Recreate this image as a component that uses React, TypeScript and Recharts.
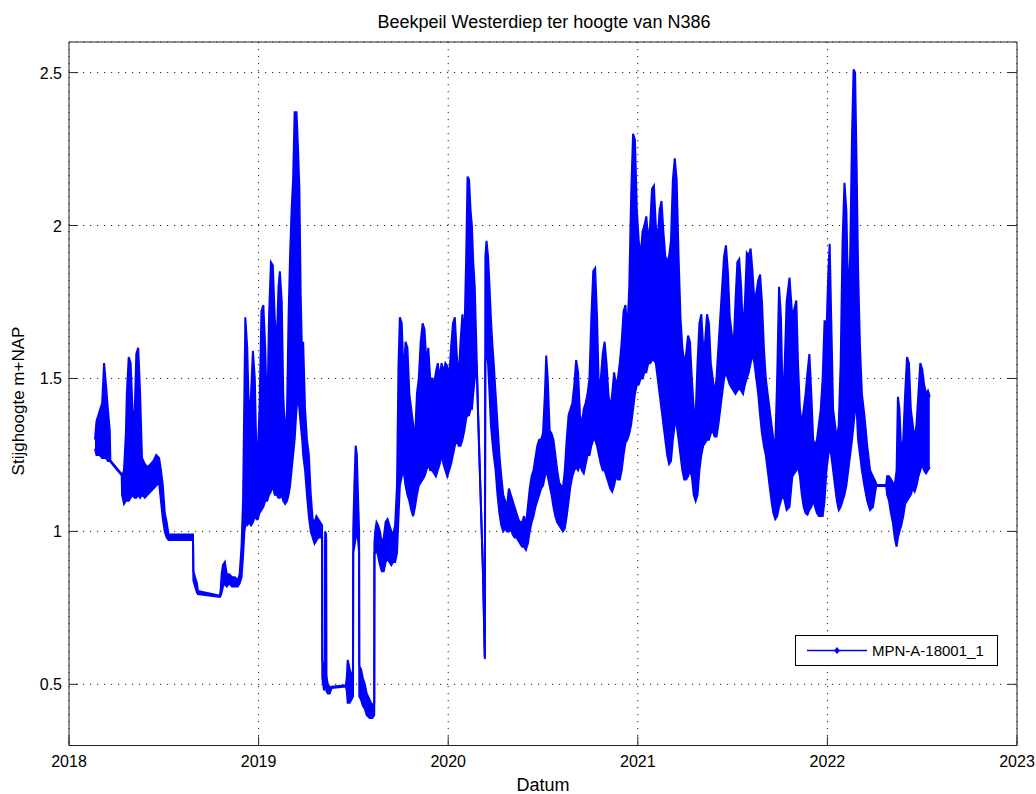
import { ComposedChart, Area, XAxis, YAxis, CartesianGrid, Legend } from "recharts";

// decimal years of each reading (envelope of the dense logger series)
const dates = [
  2018.137, 2018.145, 2018.160, 2018.175, 2018.185, 2018.195, 2018.205, 2018.215, 2018.218, 2018.278,
  2018.280, 2018.290, 2018.300, 2018.305, 2018.315, 2018.325, 2018.335, 2018.345, 2018.355, 2018.365,
  2018.375, 2018.385, 2018.400, 2018.415, 2018.430, 2018.445, 2018.460, 2018.475, 2018.485, 2018.495,
  2018.505, 2018.515, 2018.525, 2018.600, 2018.654, 2018.656, 2018.665, 2018.675, 2018.680, 2018.796,
  2018.800, 2018.805, 2018.812, 2018.822, 2018.832, 2018.845, 2018.860, 2018.875, 2018.890, 2018.900,
  2018.910, 2018.918, 2018.925, 2018.930, 2018.940, 2018.950, 2018.960, 2018.970, 2018.980, 2018.990,
  2018.995, 2019.005, 2019.015, 2019.025, 2019.035, 2019.045, 2019.055, 2019.065, 2019.075, 2019.085,
  2019.095, 2019.105, 2019.112, 2019.122, 2019.130, 2019.140, 2019.150, 2019.158, 2019.166, 2019.174,
  2019.182, 2019.190, 2019.200, 2019.208, 2019.215, 2019.222, 2019.230, 2019.235, 2019.245, 2019.255,
  2019.265, 2019.275, 2019.285, 2019.295, 2019.305, 2019.315, 2019.335, 2019.336, 2019.345, 2019.350,
  2019.351, 2019.356, 2019.357, 2019.365, 2019.375, 2019.385, 2019.460, 2019.465, 2019.470, 2019.480,
  2019.490, 2019.498, 2019.499, 2019.505, 2019.512, 2019.518, 2019.525, 2019.530, 2019.531, 2019.540,
  2019.550, 2019.560, 2019.570, 2019.585, 2019.600, 2019.610, 2019.611, 2019.615, 2019.622, 2019.630,
  2019.640, 2019.650, 2019.660, 2019.670, 2019.680, 2019.690, 2019.700, 2019.710, 2019.720, 2019.730,
  2019.738, 2019.745, 2019.755, 2019.765, 2019.775, 2019.785, 2019.795, 2019.805, 2019.815, 2019.825,
  2019.835, 2019.845, 2019.855, 2019.865, 2019.875, 2019.885, 2019.895, 2019.905, 2019.915, 2019.925,
  2019.935, 2019.945, 2019.955, 2019.965, 2019.975, 2019.985, 2019.995, 2020.005, 2020.015, 2020.025,
  2020.035, 2020.045, 2020.055, 2020.065, 2020.075, 2020.085, 2020.095, 2020.102, 2020.110, 2020.118,
  2020.125, 2020.132, 2020.140, 2020.150, 2020.158, 2020.167, 2020.176, 2020.184, 2020.190, 2020.193,
  2020.196, 2020.202, 2020.210, 2020.218, 2020.225, 2020.232, 2020.240, 2020.250, 2020.260, 2020.270,
  2020.280, 2020.290, 2020.300, 2020.310, 2020.320, 2020.330, 2020.340, 2020.350, 2020.360, 2020.370,
  2020.380, 2020.390, 2020.400, 2020.410, 2020.420, 2020.430, 2020.440, 2020.450, 2020.460, 2020.470,
  2020.480, 2020.490, 2020.500, 2020.510, 2020.517, 2020.525, 2020.535, 2020.545, 2020.555, 2020.565,
  2020.575, 2020.585, 2020.595, 2020.605, 2020.615, 2020.625, 2020.635, 2020.645, 2020.655, 2020.665,
  2020.675, 2020.685, 2020.695, 2020.705, 2020.715, 2020.725, 2020.735, 2020.745, 2020.755, 2020.765,
  2020.775, 2020.785, 2020.795, 2020.805, 2020.815, 2020.825, 2020.835, 2020.845, 2020.855, 2020.865,
  2020.875, 2020.885, 2020.895, 2020.905, 2020.915, 2020.925, 2020.935, 2020.945, 2020.955, 2020.965,
  2020.975, 2020.985, 2020.995, 2021.005, 2021.015, 2021.025, 2021.035, 2021.045, 2021.055, 2021.065,
  2021.075, 2021.085, 2021.095, 2021.105, 2021.115, 2021.125, 2021.135, 2021.145, 2021.155, 2021.165,
  2021.175, 2021.185, 2021.195, 2021.205, 2021.215, 2021.225, 2021.235, 2021.245, 2021.255, 2021.265,
  2021.275, 2021.285, 2021.295, 2021.305, 2021.315, 2021.325, 2021.335, 2021.345, 2021.355, 2021.365,
  2021.375, 2021.385, 2021.395, 2021.405, 2021.415, 2021.425, 2021.435, 2021.445, 2021.455, 2021.465,
  2021.475, 2021.485, 2021.495, 2021.505, 2021.515, 2021.525, 2021.535, 2021.545, 2021.555, 2021.565,
  2021.575, 2021.585, 2021.595, 2021.605, 2021.615, 2021.625, 2021.635, 2021.645, 2021.655, 2021.665,
  2021.675, 2021.685, 2021.695, 2021.705, 2021.715, 2021.725, 2021.735, 2021.745, 2021.755, 2021.765,
  2021.775, 2021.785, 2021.800, 2021.815, 2021.836, 2021.845, 2021.855, 2021.865, 2021.875, 2021.885,
  2021.895, 2021.905, 2021.915, 2021.925, 2021.935, 2021.945, 2021.955, 2021.965, 2021.975, 2021.985,
  2021.995, 2022.005, 2022.012, 2022.020, 2022.030, 2022.040, 2022.050, 2022.060, 2022.070, 2022.080,
  2022.090, 2022.100, 2022.110, 2022.120, 2022.130, 2022.138, 2022.146, 2022.154, 2022.162, 2022.172,
  2022.182, 2022.195, 2022.210, 2022.225, 2022.240, 2022.255, 2022.258, 2022.310, 2022.315, 2022.325,
  2022.335, 2022.345, 2022.355, 2022.365, 2022.372, 2022.380, 2022.390, 2022.400, 2022.410, 2022.420,
  2022.430, 2022.440, 2022.450, 2022.460, 2022.470, 2022.480, 2022.490, 2022.500, 2022.510, 2022.520,
  2022.530, 2022.540,
];

// lower edge of the level band (m+NAP)
const lows = [
  1.27, 1.25, 1.25, 1.24, 1.24, 1.24, 1.23, 1.23, 1.228, 1.183,
  1.12, 1.09, 1.10, 1.10, 1.10, 1.11, 1.12, 1.11, 1.11, 1.12,
  1.11, 1.12, 1.11, 1.12, 1.13, 1.14, 1.15, 1.16, 1.10, 1.04,
  1.00, 0.98, 0.972, 0.972, 0.972, 0.84, 0.82, 0.80, 0.795, 0.786,
  0.79, 0.80, 0.82, 0.83, 0.82, 0.83, 0.82, 0.82, 0.82, 0.83,
  0.85, 0.92, 1.00, 1.02, 1.02, 1.03, 1.02, 1.03, 1.05, 1.04,
  1.04, 1.06, 1.07, 1.08, 1.10, 1.10, 1.12, 1.13, 1.15, 1.12,
  1.12, 1.11, 1.11, 1.12, 1.10, 1.09, 1.10, 1.12, 1.15, 1.20,
  1.25, 1.30, 1.40, 1.45, 1.40, 1.35, 1.30, 1.25, 1.20, 1.12,
  1.05, 1.00, 0.98, 0.96, 0.97, 0.98, 0.98, 0.52, 0.48, 0.50,
  0.97, 0.97, 0.48, 0.47, 0.47, 0.488, 0.493, 0.48, 0.44, 0.44,
  0.45, 0.46, 0.93, 0.95, 0.98, 1.00, 0.97, 0.93, 0.46, 0.45,
  0.43, 0.42, 0.40, 0.39, 0.39, 0.40, 0.93, 0.93, 0.94, 0.92,
  0.89, 0.87, 0.87, 0.90, 0.91, 0.90, 0.89, 0.90, 0.90, 0.93,
  1.05, 1.15, 1.18, 1.20, 1.15, 1.12, 1.10, 1.07, 1.05, 1.08,
  1.12, 1.15, 1.16, 1.17, 1.18, 1.20, 1.22, 1.20, 1.20, 1.19,
  1.18, 1.20, 1.22, 1.25, 1.22, 1.20, 1.18, 1.20, 1.22, 1.25,
  1.28, 1.30, 1.28, 1.28, 1.30, 1.33, 1.37, 1.38, 1.38, 1.40,
  1.40, 1.45, 1.50, 1.55, 1.37, 1.19, 1.01, 0.85, 0.67, 0.583,
  1.55, 1.60, 1.55, 1.45, 1.35, 1.30, 1.25, 1.20, 1.12, 1.06,
  1.02, 1.00, 1.01, 1.00, 1.00, 1.01, 0.99, 0.98, 0.98, 0.97,
  0.96, 0.95, 0.95, 0.94, 0.96, 1.00, 1.03, 1.05, 1.08, 1.10,
  1.12, 1.14, 1.15, 1.18, 1.20, 1.18, 1.15, 1.12, 1.08, 1.05,
  1.03, 1.02, 1.01, 1.00, 1.01, 1.05, 1.10, 1.15, 1.18, 1.20,
  1.21, 1.20, 1.22, 1.20, 1.19, 1.22, 1.25, 1.25, 1.28, 1.30,
  1.30, 1.28, 1.25, 1.22, 1.20, 1.20, 1.18, 1.16, 1.14, 1.13,
  1.15, 1.18, 1.17, 1.17, 1.20, 1.25, 1.29, 1.30, 1.32, 1.35,
  1.40, 1.45, 1.48, 1.48, 1.50, 1.50, 1.52, 1.52, 1.55, 1.55,
  1.56, 1.56, 1.55, 1.50, 1.45, 1.40, 1.35, 1.30, 1.25, 1.22,
  1.23, 1.30, 1.35, 1.35, 1.30, 1.25, 1.20, 1.17, 1.17, 1.18,
  1.20, 1.18, 1.12, 1.10, 1.12, 1.20, 1.25, 1.28, 1.29, 1.30,
  1.30, 1.32, 1.33, 1.31, 1.31, 1.35, 1.40, 1.45, 1.50, 1.52,
  1.50, 1.48, 1.47, 1.46, 1.45, 1.46, 1.47, 1.46, 1.45, 1.48,
  1.50, 1.52, 1.55, 1.58, 1.55, 1.50, 1.45, 1.38, 1.32, 1.28,
  1.25, 1.20, 1.15, 1.10, 1.06, 1.04, 1.05, 1.08, 1.10, 1.12,
  1.10, 1.07, 1.08, 1.18, 1.20, 1.21, 1.18, 1.12, 1.08, 1.06,
  1.055, 1.07, 1.08, 1.10, 1.08, 1.06, 1.05, 1.05, 1.05, 1.10,
  1.20, 1.25, 1.28, 1.25, 1.20, 1.15, 1.10, 1.07, 1.08, 1.10,
  1.12, 1.15, 1.20, 1.25, 1.30, 1.35, 1.40, 1.40, 1.30, 1.25,
  1.20, 1.15, 1.10, 1.07, 1.08, 1.14, 1.148, 1.148, 1.12, 1.10,
  1.06, 1.03, 0.98, 0.95, 0.98, 1.00, 1.02, 1.05, 1.09, 1.10,
  1.11, 1.12, 1.14, 1.13, 1.15, 1.18, 1.20, 1.22, 1.20, 1.19,
  1.20, 1.21,
];

// upper edge of the level band (m+NAP)
const highs = [
  1.30, 1.36, 1.39, 1.42, 1.55, 1.48, 1.40, 1.33, 1.232, 1.187,
  1.18, 1.20, 1.32, 1.45, 1.57, 1.55, 1.40, 1.35, 1.58, 1.60,
  1.45, 1.24, 1.22, 1.21, 1.22, 1.23, 1.25, 1.24, 1.20, 1.15,
  1.06, 1.03, 0.99, 0.99, 0.99, 0.87, 0.85, 0.83, 0.805, 0.79,
  0.81, 0.86, 0.89, 0.90, 0.86, 0.86, 0.85, 0.85, 0.84, 0.86,
  0.95, 1.10, 1.45, 1.70, 1.60, 1.35, 1.45, 1.59, 1.50, 1.20,
  1.25, 1.40, 1.72, 1.74, 1.60, 1.35, 1.70, 1.88, 1.87, 1.70,
  1.60, 1.80, 1.85, 1.75, 1.45, 1.30, 1.40, 1.70, 1.90, 2.05,
  2.15, 2.37, 2.37, 2.25, 2.12, 1.77, 1.55, 1.62, 1.40, 1.30,
  1.25, 1.12, 1.04, 1.03, 1.05, 1.04, 1.02, 0.58, 0.55, 0.56,
  1.00, 0.99, 0.53, 0.50, 0.49, 0.492, 0.497, 0.52, 0.58, 0.55,
  0.52, 0.55, 1.00, 1.15, 1.28, 1.25, 1.10, 1.00, 0.56, 0.55,
  0.52, 0.50, 0.47, 0.45, 0.43, 0.44, 0.96, 1.00, 1.03, 1.02,
  1.00, 0.96, 0.98, 1.03, 1.04, 1.02, 1.00, 0.99, 1.02, 1.15,
  1.55, 1.70, 1.68, 1.50, 1.62, 1.60, 1.45, 1.40, 1.35, 1.30,
  1.45, 1.50, 1.62, 1.68, 1.66, 1.55, 1.60, 1.50, 1.50, 1.48,
  1.52, 1.55, 1.50, 1.55, 1.52, 1.55, 1.54, 1.50, 1.60, 1.68,
  1.70, 1.58, 1.50, 1.62, 1.71, 1.62, 1.90, 2.16, 2.15, 2.05,
  2.00, 1.88, 1.80, 1.57, 1.38, 1.20, 1.02, 0.86, 0.68, 0.59,
  1.90, 1.95, 1.90, 1.80, 1.70, 1.62, 1.55, 1.45, 1.35, 1.25,
  1.18, 1.12, 1.10, 1.08, 1.14, 1.12, 1.10, 1.08, 1.06, 1.04,
  1.03, 1.03, 1.05, 1.02, 1.08, 1.14, 1.18, 1.20, 1.24, 1.28,
  1.30, 1.30, 1.32, 1.45, 1.575, 1.50, 1.33, 1.32, 1.30, 1.25,
  1.20, 1.16, 1.15, 1.14, 1.20, 1.30, 1.38, 1.40, 1.42, 1.48,
  1.56, 1.52, 1.38, 1.35, 1.40, 1.42, 1.45, 1.50, 1.70, 1.85,
  1.86, 1.70, 1.45, 1.50, 1.58, 1.62, 1.55, 1.45, 1.40, 1.45,
  1.52, 1.48, 1.50, 1.55, 1.62, 1.72, 1.74, 1.65, 1.80, 2.10,
  2.30, 2.28, 2.05, 1.95, 1.90, 1.98, 2.00, 2.03, 1.95, 2.00,
  2.12, 2.13, 2.00, 1.95, 2.05, 2.08, 1.98, 1.90, 1.88, 1.90,
  1.95, 2.15, 2.22, 2.15, 1.90, 1.70, 1.60, 1.55, 1.58, 1.64,
  1.62, 1.50, 1.40, 1.38, 1.55, 1.68, 1.71, 1.60, 1.62, 1.71,
  1.68, 1.55, 1.50, 1.45, 1.50, 1.60, 1.70, 1.80, 1.90, 1.935,
  1.85, 1.70, 1.65, 1.60, 1.75, 1.88, 1.89, 1.80, 1.65, 1.75,
  1.91, 1.90, 1.925, 1.85, 1.75, 1.78, 1.82, 1.84, 1.75, 1.60,
  1.50, 1.45, 1.40, 1.35, 1.30, 1.28, 1.50, 1.80, 1.70, 1.40,
  1.55, 1.75, 1.83, 1.70, 1.755, 1.55, 1.40, 1.35, 1.40, 1.45,
  1.52, 1.58, 1.45, 1.30, 1.28, 1.30, 1.35, 1.40, 1.50, 1.69,
  1.65, 1.85, 1.94, 1.70, 1.40, 1.35, 1.30, 1.35, 1.55, 1.95,
  2.14, 2.05, 1.75, 1.90, 2.30, 2.51, 2.50, 2.20, 1.85, 1.60,
  1.45, 1.38, 1.28, 1.20, 1.18, 1.16, 1.152, 1.152, 1.18, 1.18,
  1.17, 1.16, 1.15, 1.20, 1.44, 1.40, 1.25, 1.30, 1.45, 1.57,
  1.55, 1.40, 1.35, 1.30, 1.35, 1.45, 1.55, 1.53, 1.48, 1.45,
  1.46, 1.44,
];

const yearTicks = [2018, 2019, 2020, 2021, 2022, 2023];
const levelTicks = [0.5, 1, 1.5, 2, 2.5];
const seriesName = "MPN-A-18001_1";
const title = "Beekpeil Westerdiep ter hoogte van N386";

const data = dates.map((t, i) => ({ t, band: [lows[i], highs[i]] }));

const AXIS = "#262626";
const BLUE = "#0000ff";
const FONT = "'Liberation Sans', Arial, Helvetica, sans-serif";
const TICK_LEN = 9;

// MATLAB-style ticks: marks point into the plot box, labels sit outside
const BottomTick = ({ x, y, payload }: any) => (
  <g>
    <line x1={x} y1={y} x2={x} y2={y - TICK_LEN} stroke={AXIS} />
    <text x={x} y={y + 21} textAnchor="middle" fontSize={16} fontFamily={FONT} fill="#000">
      {payload.value}
    </text>
  </g>
);

const LeftTick = ({ x, y, payload }: any) => (
  <g>
    <line x1={x} y1={y} x2={x + TICK_LEN} y2={y} stroke={AXIS} />
    <text x={x - 7} y={y + 6} textAnchor="end" fontSize={16} fontFamily={FONT} fill="#000">
      {payload.value}
    </text>
  </g>
);

const TopTick = ({ x, y }: any) => <line x1={x} y1={y} x2={x} y2={y + TICK_LEN} stroke={AXIS} />;

const RightTick = ({ x, y }: any) => <line x1={x} y1={y} x2={x - TICK_LEN} y2={y} stroke={AXIS} />;

const LegendBox = ({ payload }: any) => {
  const item = payload && payload[0];
  const color = (item && item.color) || BLUE;
  return (
    <div style={{ width: 201, height: 29, border: "1px solid #000", background: "#fff" }}>
      <svg width={201} height={29} style={{ display: "block" }}>
        <line x1={11} y1={14.5} x2={71} y2={14.5} stroke={color} strokeWidth={1.5} />
        <path d="M41 11 L44 14.5 L41 18 L38 14.5 Z" fill={color} />
        <text x={76} y={20} fontSize={15} fontFamily={FONT} fill="#000">
          {(item && item.value) || seriesName}
        </text>
      </svg>
    </div>
  );
};

export default function App() {
  return (
    <div style={{ position: "absolute", left: 0, top: 0, width: 1036, height: 794, background: "#fff" }}>
      <ComposedChart
        width={1036}
        height={794}
        data={data}
        margin={{ top: 41, right: 18, bottom: 0, left: 0 }}
      >
        <CartesianGrid stroke="#222" strokeDasharray="1.2 5.8" />
        <XAxis
          dataKey="t"
          type="number"
          domain={[2018, 2023]}
          ticks={yearTicks}
          interval={0}
          height={48.5}
          tickSize={0}
          tickMargin={0}
          tickLine={false}
          tick={BottomTick}
          axisLine={{ stroke: AXIS }}
          allowDataOverflow
        />
        <XAxis
          xAxisId="top"
          orientation="top"
          type="number"
          domain={[2018, 2023]}
          ticks={yearTicks}
          interval={0}
          height={1}
          tickSize={0}
          tickMargin={0}
          tickLine={false}
          tick={TopTick}
          axisLine={{ stroke: AXIS }}
          allowDataOverflow
        />
        <YAxis
          type="number"
          domain={[0.3, 2.6]}
          ticks={levelTicks}
          interval={0}
          width={69}
          tickSize={0}
          tickMargin={0}
          tickLine={false}
          tick={LeftTick}
          axisLine={{ stroke: AXIS }}
          allowDataOverflow
        />
        <YAxis
          yAxisId="right"
          orientation="right"
          type="number"
          domain={[0.3, 2.6]}
          ticks={levelTicks}
          interval={0}
          width={1}
          tickSize={0}
          tickMargin={0}
          tickLine={false}
          tick={RightTick}
          axisLine={{ stroke: AXIS }}
          allowDataOverflow
        />
        <Area
          type="linear"
          dataKey="band"
          name={seriesName}
          stroke={BLUE}
          strokeWidth={2}
          fill={BLUE}
          fillOpacity={1}
          dot={false}
          activeDot={false}
          isAnimationActive={false}
        />
        <Legend
          layout="horizontal"
          verticalAlign="middle"
          align="center"
          content={LegendBox}
          wrapperStyle={{ left: 795, top: 635, width: 203, height: 31 }}
        />
        <text x={544} y={28} textAnchor="middle" fontSize={18} fontFamily={FONT} fill="#000">
          {title}
        </text>
        <text x={543} y={791} textAnchor="middle" fontSize={18} fontFamily={FONT} fill="#000">
          Datum
        </text>
        <text
          x={24}
          y={401}
          transform="rotate(-90, 24, 401)"
          textAnchor="middle"
          fontSize={17}
          fontFamily={FONT}
          fill="#000"
        >
          Stijghoogte m+NAP
        </text>
      </ComposedChart>
    </div>
  );
}
